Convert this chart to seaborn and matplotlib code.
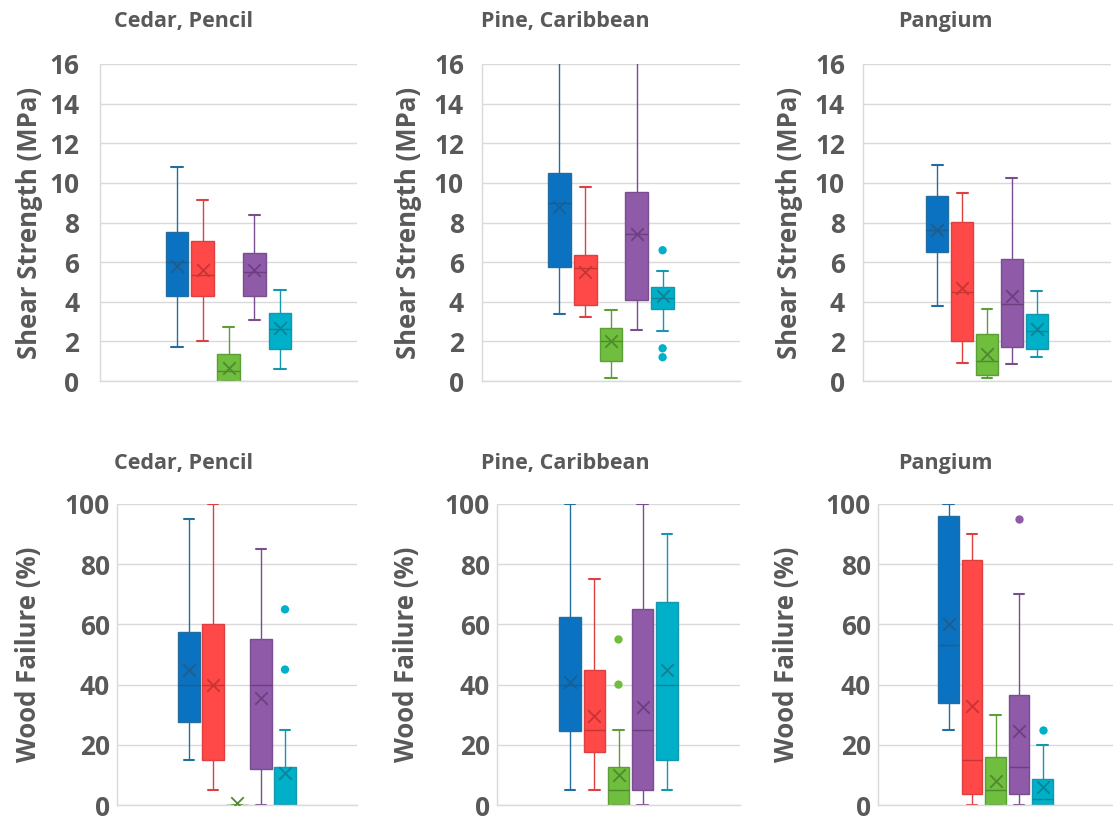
import matplotlib
matplotlib.use("Agg")
import matplotlib.pyplot as plt
import seaborn as sns

# ---------------- data ----------------
GROUPS = ["G1", "G2", "G3", "G4", "G5"]
TITLES = ["Cedar, Pencil", "Pine, Caribbean", "Pangium"]

# five-number summaries [min, Q1, median, Q3, max] per box (GROUPS order)
SHEAR_CEDAR_BOX = [[1.7, 4.3, 6.0, 7.5, 10.8], [2.0, 4.3, 5.35, 7.05, 9.15],
                   [0.0, 0.0, 0.5, 1.35, 2.75], [3.1, 4.3, 5.5, 6.45, 8.4],
                   [0.6, 1.6, 2.6, 3.45, 4.6]]
SHEAR_CEDAR_MEAN = [5.8, 5.6, 0.65, 5.6, 2.7]
SHEAR_CEDAR_OUT = [[], [], [], [], []]

SHEAR_PINE_BOX = [[3.4, 5.75, 9.0, 10.5, 16.5], [3.25, 3.85, 5.7, 6.35, 9.8],
                  [0.15, 1.0, 2.0, 2.65, 3.6], [2.55, 4.1, 7.4, 9.55, 16.5],
                  [2.5, 3.65, 4.2, 4.75, 5.55]]
SHEAR_PINE_MEAN = [8.8, 5.5, 2.0, 7.4, 4.3]
SHEAR_PINE_OUT = [[], [], [], [], [6.6, 1.65, 1.2]]

SHEAR_PANG_BOX = [[3.8, 6.5, 7.6, 9.35, 10.9], [0.9, 2.0, 4.5, 8.05, 9.5],
                  [0.15, 0.3, 1.0, 2.35, 3.65], [0.85, 1.7, 3.9, 6.15, 10.25],
                  [1.2, 1.6, 2.5, 3.4, 4.55]]
SHEAR_PANG_MEAN = [7.6, 4.7, 1.35, 4.3, 2.6]
SHEAR_PANG_OUT = [[], [], [], [], []]

WF_CEDAR_BOX = [[15, 27.5, 40, 57.5, 95], [5, 15, 40, 60, 100],
                [0, 0, 0, 0, 0], [0, 12, 40, 55, 85],
                [0, 0, 0, 12.5, 25]]
WF_CEDAR_MEAN = [45, 40, 0.5, 35.5, 10.5]
WF_CEDAR_OUT = [[], [], [], [], [65, 45]]

WF_PINE_BOX = [[5, 24.5, 40, 62.5, 100], [5, 17.5, 25, 45, 75],
               [0, 0, 5, 12.5, 25], [0, 5, 25, 65, 100],
               [5, 15, 40, 67.5, 90]]
WF_PINE_MEAN = [41, 29.5, 10, 32.5, 45]
WF_PINE_OUT = [[], [], [55, 40], [], []]

WF_PANG_BOX = [[25, 34, 53, 96, 100], [0, 3.5, 15, 81.5, 90],
               [0, 0, 5, 16, 30], [0, 3.5, 12.5, 36.5, 70],
               [0, 0, 2, 8.5, 20]]
WF_PANG_MEAN = [60, 33, 8, 24.5, 6]
WF_PANG_OUT = [[], [], [], [95], [25]]

# ---------------- style ----------------
FILL = ["#0A72C0", "#FF4848", "#6FBE3E", "#8F5AA8", "#00AFC8"]
EDGE = ["#236E9E", "#DD4040", "#5E9E38", "#7A4D90", "#1598AE"]
DARK = ["#1D5E90", "#C83434", "#4E8A2E", "#6B3F80", "#0E8296"]
TXT = "#595959"
GRID = "#D9D9D9"

sns.set_theme(style="white")
plt.rcParams["font.family"] = ["Open Sans", "DejaVu Sans"]

W, H = 1113, 832
fig = plt.figure(figsize=(W / 100, H / 100), dpi=100)


def make_ax(left, top, width, height):
    return fig.add_axes([left / W, 1 - (top + height) / H, width / W, height / H])


def draw(ax, boxes, means, outs, ymax, step, ylabel, tickpad, label_x):
    for i, (g, vals) in enumerate(zip(GROUPS, boxes)):
        sns.boxplot(x=[g] * len(vals), y=vals, order=GROUPS, ax=ax,
                    color=FILL[i], linecolor=EDGE[i], saturation=1,
                    width=0.88, whis=(0, 100), showfliers=False,
                    linewidth=1.0,
                    boxprops=dict(edgecolor=EDGE[i]),
                    medianprops=dict(color=DARK[i], linewidth=1.0),
                    whiskerprops=dict(color=EDGE[i], linewidth=1.0),
                    capprops=dict(color=EDGE[i], linewidth=1.5))
    sns.stripplot(x=GROUPS, y=means, order=GROUPS, hue=GROUPS,
                  hue_order=GROUPS, palette=DARK, marker="x", size=9,
                  linewidth=1.3, jitter=False, legend=False, ax=ax, zorder=5)
    ox, oy = [], []
    for g, vals in zip(GROUPS, outs):
        for v in vals:
            ox.append(g)
            oy.append(v)
    if ox:
        sns.stripplot(x=ox, y=oy, order=GROUPS, hue=ox, hue_order=GROUPS,
                      palette=FILL, size=6, linewidth=0, jitter=False,
                      legend=False, ax=ax, zorder=5)
    ax.set_xlim(-3, 7)
    ax.set_ylim(0, ymax)
    ax.set_yticks(range(0, ymax + 1, step))
    ax.set_xticks([])
    ax.set_xlabel("")
    ax.set_ylabel(ylabel, fontsize=18.5, fontweight="bold", color=TXT)
    ax.yaxis.set_label_coords(label_x, 0.5)
    ax.yaxis.grid(True, color=GRID, linewidth=1)
    ax.set_axisbelow(True)
    for s in ["top", "right"]:
        ax.spines[s].set_visible(False)
    for s in ["left", "bottom"]:
        ax.spines[s].set_color(GRID)
        ax.spines[s].set_linewidth(1)
    ax.tick_params(axis="y", length=0, pad=tickpad, labelsize=19, labelcolor=TXT)
    for lab in ax.get_yticklabels():
        lab.set_fontweight("bold")


top_axes = [make_ax(100, 64, 257, 317), make_ax(482, 64, 258, 317),
            make_ax(863, 64, 248, 317)]
bot_axes = [make_ax(117, 504, 240, 301), make_ax(497, 504, 243, 301),
            make_ax(878, 504, 235, 301)]

draw(top_axes[0], SHEAR_CEDAR_BOX, SHEAR_CEDAR_MEAN, SHEAR_CEDAR_OUT, 16, 2,
     "Shear Strength (MPa)", 15, -0.222)
draw(top_axes[1], SHEAR_PINE_BOX, SHEAR_PINE_MEAN, SHEAR_PINE_OUT, 16, 2,
     "Shear Strength (MPa)", 13, -0.233)
draw(top_axes[2], SHEAR_PANG_BOX, SHEAR_PANG_MEAN, SHEAR_PANG_OUT, 16, 2,
     "Shear Strength (MPa)", 13, -0.242)
draw(bot_axes[0], WF_CEDAR_BOX, WF_CEDAR_MEAN, WF_CEDAR_OUT, 100, 20,
     "Wood Failure (%)", 5, -0.3125)
draw(bot_axes[1], WF_PINE_BOX, WF_PINE_MEAN, WF_PINE_OUT, 100, 20,
     "Wood Failure (%)", 5, -0.317)
draw(bot_axes[2], WF_PANG_BOX, WF_PANG_MEAN, WF_PANG_OUT, 100, 20,
     "Wood Failure (%)", 5, -0.332)

title_x = [184, 565, 945]
for x, t in zip(title_x, TITLES):
    fig.text(x / W, 1 - 22 / H, t, ha="center", va="center", fontsize=15.5,
             fontweight="bold", color=TXT)
    fig.text(x / W, 1 - 464 / H, t, ha="center", va="center", fontsize=15.5,
             fontweight="bold", color=TXT)

fig.savefig("out.png", dpi=100)
